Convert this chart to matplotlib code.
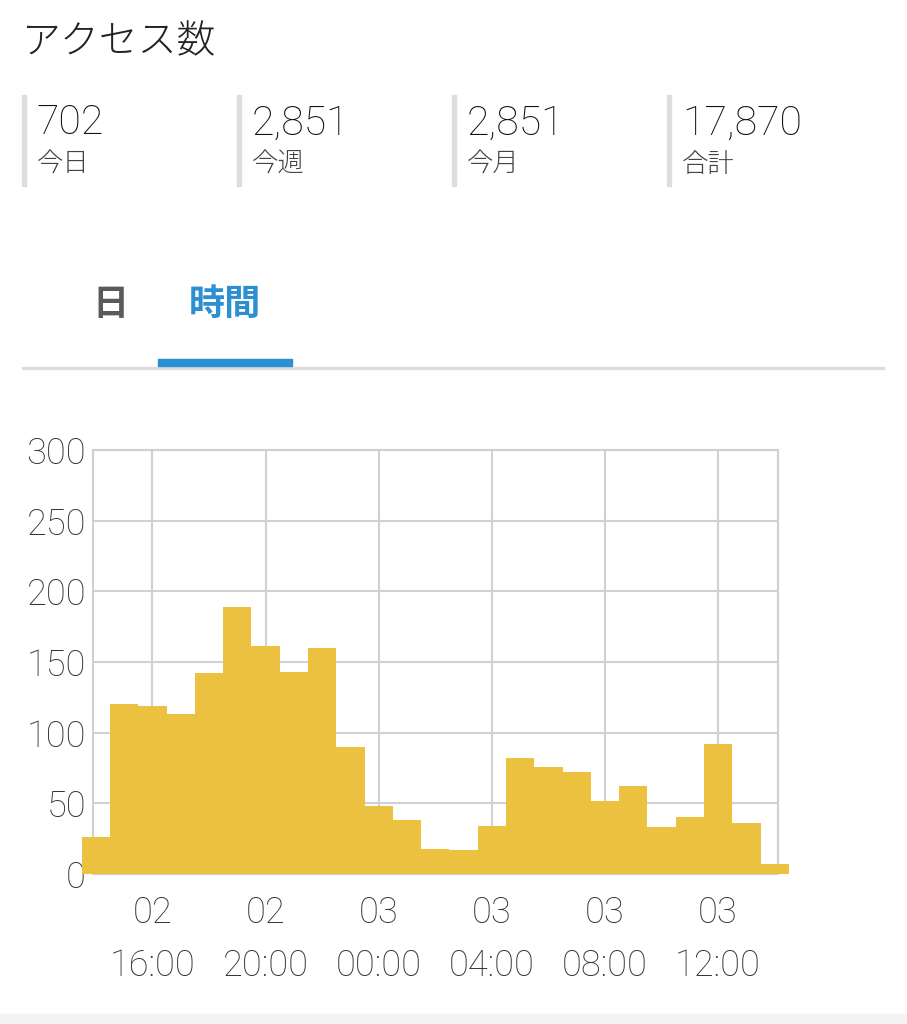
import matplotlib.pyplot as plt
from matplotlib.patches import Rectangle

plt.rcParams['font.family'] = ['Roboto', 'Noto Sans CJK JP', 'DejaVu Sans']

# データ
title = 'アクセス数'
stat_values = ['702', '2,851', '2,851', '17,870']
stat_labels = ['今日', '今週', '今月', '合計']
tabs = ['日', '時間']

# 時刻 (02日 0:00 からの時間)
hours = [14, 15, 16, 17, 18, 19, 20, 21, 22, 23, 24, 25, 26,
         27, 28, 29, 30, 31, 32, 33, 34, 35, 36, 37, 38]
access = [26, 120, 119, 113, 142, 189, 161, 143, 160, 90, 48, 38, 18,
          17, 34, 82, 76, 72, 52, 62, 33, 40, 92, 36, 7]
tick_hours = [16, 20, 24, 28, 32, 36]
tick_days = ['02', '02', '03', '03', '03', '03']
tick_times = ['16:00', '20:00', '00:00', '04:00', '08:00', '12:00']

W, H = 907, 1024
fig = plt.figure(figsize=(W / 100, H / 100), dpi=100)
fig.patch.set_facecolor('white')

def px(x, y):
    return x / W, 1 - y / H

# タイトル
fig.text(*px(22, 43), title, fontsize=28, fontweight='light', color='#222222',
         va='center', ha='left')

# 集計
for i, (v, lab) in enumerate(zip(stat_values, stat_labels)):
    x0 = 24 + i * 215
    fig.patches.append(Rectangle(px(x0 - 2, 186), 4 / W, 91 / H, transform=fig.transFigure,
                                 color='#dddddd', zorder=1))
    fig.text(*px(x0 + 13, 123), v, fontsize=29.5, fontweight='light', color='#111111',
             va='center', ha='left')
    fig.text(*px(x0 + 13, 165), lab, fontsize=19, fontweight='light', color='#444444',
             va='center', ha='left')

# タブ
fig.text(*px(110, 305), tabs[0], fontsize=26, fontweight='bold', color='#5a5a5a',
         va='center', ha='center')
fig.text(*px(225, 305), tabs[1], fontsize=26, fontweight='bold', color='#2b8fd1',
         va='center', ha='center')
fig.patches.append(Rectangle(px(22, 369), (884 - 22) / W, 2 / H, transform=fig.transFigure,
                             color='#dddddd', zorder=1))
fig.patches.append(Rectangle(px(158, 366), (292 - 158) / W, 7 / H, transform=fig.transFigure,
                             color='#2b8fd1', zorder=2))

# 下部の帯
fig.patches.append(Rectangle((0, 0), 1, 10 / H, transform=fig.transFigure,
                             color='#f4f4f4', zorder=0))

# グラフ
ax = fig.add_axes([93 / W, 1 - 874 / H, (777.5 - 93) / W, (874 - 450) / H])
ax.bar(hours, access, width=1.0, color='#ebc13f', clip_on=False, zorder=3, linewidth=0)
ax.set_xlim(13.9, 38.1)
ax.set_ylim(0, 300)
ax.set_yticks(range(0, 301, 50))
ax.set_xticks(tick_hours)
ax.set_xticklabels([f'{d}\n{t}' for d, t in zip(tick_days, tick_times)], linespacing=1.63)
ax.tick_params(axis='both', length=0, labelsize=26, colors='#333333')
ax.tick_params(axis='x', pad=15)
ax.tick_params(axis='y', pad=5)
for lab in ax.get_xticklabels() + ax.get_yticklabels():
    lab.set_fontweight('light')
ax.grid(True, color='#d0d0d6', linewidth=1.5)
ax.set_axisbelow(True)
for s in ax.spines.values():
    s.set_color('#cfcfd4')
    s.set_linewidth(1.5)

plt.savefig('out.png', dpi=100)
